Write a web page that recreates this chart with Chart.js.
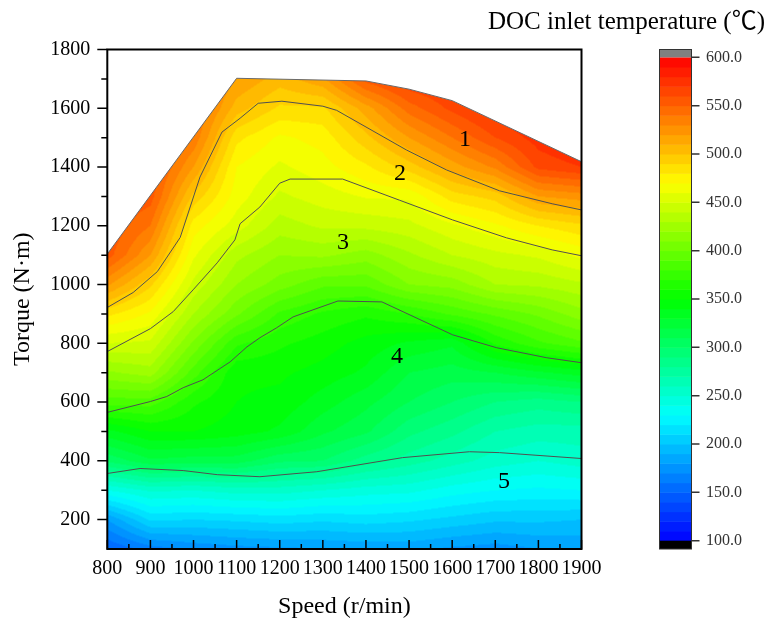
<!DOCTYPE html>
<html>
<head>
<meta charset="utf-8">
<script src="https://cdn.jsdelivr.net/npm/chart.js@4/dist/chart.umd.min.js"></script>
<style>
  html, body { margin: 0; padding: 0; background: #fff; }
</style>
</head>
<body>
<canvas id="doc-map" width="773" height="619"></canvas>
<script>
// grid of the map: speed (r/min) columns, torque (N·m) rows
const speeds = [800, 900, 1000, 1100, 1200, 1300, 1400, 1500, 1600, 1700, 1800, 1900];
const torques = [100, 200, 300, 400, 500, 600, 700, 800, 900, 1000, 1100, 1200, 1300, 1400, 1500, 1600, 1700];

// DOC inlet temperature (°C) along each speed column, torque 100 -> 1700
const temp800  = [150, 180, 240, 302, 337, 385, 418, 450, 483, 522, 555, 560, 560, 560, 560, 560, 560];
const temp900  = [165, 212, 252, 318, 350, 385, 425, 448, 468, 492, 520, 540, 555, 560, 560, 560, 560];
const temp1000 = [172, 210, 250, 315, 350, 362, 385, 408, 430, 447, 462, 475, 497, 520, 538, 545, 545];
const temp1100 = [176, 212, 255, 315, 345, 350, 352, 372, 402, 420, 433, 455, 465, 470, 483, 505, 520];
const temp1200 = [178, 215, 255, 302, 338, 347, 352, 362, 378, 405, 420, 435, 448, 458, 468, 488, 505];
const temp1300 = [180, 212, 250, 300, 322, 335, 346, 355, 368, 392, 422, 442, 455, 466, 474, 488, 518];
const temp1400 = [182, 215, 245, 285, 312, 323, 338, 346, 362, 392, 415, 443, 461, 478, 497, 515, 555];
const temp1500 = [183, 212, 243, 275, 293, 310, 320, 338, 370, 410, 428, 447, 462, 495, 520, 545, 570];
const temp1600 = [178, 207, 235, 265, 283, 300, 315, 332, 382, 414, 440, 458, 485, 515, 540, 563, 575];
const temp1700 = [175, 202, 230, 255, 270, 290, 320, 362, 392, 430, 447, 468, 494, 532, 560, 578, 585];
const temp1800 = [180, 202, 228, 250, 265, 285, 328, 378, 402, 432, 452, 480, 520, 563, 575, 585, 590];
const temp1900 = [182, 200, 230, 255, 265, 290, 335, 388, 416, 438, 463, 488, 525, 570, 585, 590, 590];
const tempColumns = [temp800, temp900, temp1000, temp1100, temp1200, temp1300,
  temp1400, temp1500, temp1600, temp1700, temp1800, temp1900];

// full load envelope
const envelopeSpeed = [800, 1100, 1400, 1500, 1600, 1900];
const envelopeTorque = [1104, 1702, 1693, 1665, 1626, 1418];

// contour lines between the numbered regions
const iso12Speed = [800, 860, 916, 969, 1015, 1066, 1108, 1150, 1205, 1300, 1332, 1494, 1587, 1710, 1832, 1900];
const iso12Torque = [922, 973, 1044, 1160, 1366, 1519, 1566, 1617, 1624, 1607, 1593, 1458, 1390, 1319, 1275, 1254];
const iso23Speed = [800, 900, 953, 999, 1055, 1096, 1108, 1154, 1200, 1224, 1346, 1478, 1601, 1726, 1832, 1900];
const iso23Torque = [772, 850, 908, 982, 1074, 1152, 1207, 1264, 1345, 1359, 1359, 1287, 1220, 1159, 1118, 1098];
const iso34Speed = [800, 846, 900, 938, 976, 1022, 1085, 1124, 1154, 1193, 1231, 1335, 1437, 1601, 1703, 1819, 1900];
const iso34Torque = [565, 582, 602, 619, 649, 676, 737, 788, 819, 853, 890, 944, 941, 829, 785, 751, 734];
const iso45Speed = [800, 876, 976, 1055, 1154, 1286, 1485, 1640, 1710, 1900];
const iso45Torque = [357, 374, 367, 353, 346, 363, 411, 431, 428, 408];

// region numbers
const regionLabels = ['1', '2', '3', '4', '5'];
const labelSpeed = [1630, 1479, 1347, 1472, 1720];
const labelTorque = [1492, 1376, 1142, 754, 329];

// ticks
const speedTicks = [800, 900, 1000, 1100, 1200, 1300, 1400, 1500, 1600, 1700, 1800, 1900];
const speedMinor = [850, 950, 1050, 1150, 1250, 1350, 1450, 1550, 1650, 1750, 1850];
const torqueTicks = [200, 400, 600, 800, 1000, 1200, 1400, 1600, 1800];
const torqueMinor = [300, 500, 700, 900, 1100, 1300, 1500, 1700];
const tempTicks = [100, 150, 200, 250, 300, 350, 400, 450, 500, 550, 600];

const serif = '"Liberation Serif", "Times New Roman", "Noto Sans CJK SC", serif';
const colourStops = [[100, [0, 0, 255]], [230, [0, 255, 255]], [350, [0, 255, 0]], [470, [255, 255, 0]], [600, [255, 0, 0]]];
const band = 10;

function colourFor(v) {
  if (v <= colourStops[0][0]) return colourStops[0][1];
  for (let i = 1; i < colourStops.length; i++) {
    const [v1, c1] = colourStops[i];
    const [v0, c0] = colourStops[i - 1];
    if (v <= v1) {
      const f = (v - v0) / (v1 - v0);
      return [0, 1, 2].map(k => Math.round(c0[k] + (c1[k] - c0[k]) * f));
    }
  }
  return colourStops[colourStops.length - 1][1];
}

function findCell(arr, v) {
  for (let i = 0; i < arr.length - 1; i++) {
    if (v <= arr[i + 1]) return i;
  }
  return arr.length - 2;
}

function fieldAt(s, t) {
  const i = findCell(speeds, s), j = findCell(torques, t);
  const fs = Math.min(Math.max((s - speeds[i]) / (speeds[i + 1] - speeds[i]), 0), 1);
  const ft = Math.min(Math.max((t - torques[j]) / (torques[j + 1] - torques[j]), 0), 1);
  const a = tempColumns[i][j], b = tempColumns[i + 1][j];
  const c = tempColumns[i][j + 1], d = tempColumns[i + 1][j + 1];
  return (a * (1 - fs) + b * fs) * (1 - ft) + (c * (1 - fs) + d * fs) * ft;
}

function bandColour(v) {
  return colourFor(Math.floor(v / band) * band + band / 2);
}

const fieldPlugin = {
  id: 'field',
  beforeDatasetsDraw(chart) {
    const {ctx, chartArea: a, scales: {x, y}} = chart;
    const w = Math.ceil(a.right - a.left), h = Math.ceil(a.bottom - a.top);
    const off = document.createElement('canvas');
    off.width = w; off.height = h;
    const octx = off.getContext('2d');
    const img = octx.createImageData(w, h);
    for (let j = 0; j < h; j++) {
      const t = y.getValueForPixel(a.top + j + 0.5);
      for (let i = 0; i < w; i++) {
        const s = x.getValueForPixel(a.left + i + 0.5);
        const c = bandColour(fieldAt(s, t));
        const k = (j * w + i) * 4;
        img.data[k] = c[0]; img.data[k + 1] = c[1]; img.data[k + 2] = c[2]; img.data[k + 3] = 255;
      }
    }
    octx.putImageData(img, 0, 0);
    ctx.save();
    ctx.beginPath();
    envelopeSpeed.forEach((s, i) => {
      const px = x.getPixelForValue(s), py = y.getPixelForValue(envelopeTorque[i]);
      if (i === 0) ctx.moveTo(px, py); else ctx.lineTo(px, py);
    });
    ctx.lineTo(x.getPixelForValue(x.max), y.getPixelForValue(y.min));
    ctx.lineTo(x.getPixelForValue(x.min), y.getPixelForValue(y.min));
    ctx.closePath();
    ctx.clip();
    ctx.drawImage(off, a.left, a.top);
    ctx.restore();
  },
  afterDatasetsDraw(chart) {
    const {ctx, scales: {x, y}} = chart;
    ctx.save();
    ctx.fillStyle = '#000';
    ctx.font = '24px ' + serif;
    ctx.textAlign = 'center';
    ctx.textBaseline = 'middle';
    regionLabels.forEach((txt, i) => {
      ctx.fillText(txt, x.getPixelForValue(labelSpeed[i]), y.getPixelForValue(labelTorque[i]));
    });
    ctx.restore();
  },
  afterDraw(chart) {
    const {ctx, chartArea: a, scales: {x, y, temp}} = chart;
    ctx.save();
    // frame
    ctx.strokeStyle = '#000';
    ctx.lineWidth = 2;
    ctx.strokeRect(a.left, a.top, a.right - a.left, a.bottom - a.top);
    // x ticks, pointing in
    ctx.lineWidth = 1.5;
    ctx.beginPath();
    speedTicks.forEach(v => { const px = x.getPixelForValue(v); ctx.moveTo(px, a.bottom); ctx.lineTo(px, a.bottom - 9); });
    speedMinor.forEach(v => { const px = x.getPixelForValue(v); ctx.moveTo(px, a.bottom); ctx.lineTo(px, a.bottom - 5); });
    // y ticks, pointing out
    torqueTicks.forEach(v => { const py = y.getPixelForValue(v); ctx.moveTo(a.left, py); ctx.lineTo(a.left - 10, py); });
    torqueMinor.forEach(v => { const py = y.getPixelForValue(v); ctx.moveTo(a.left, py); ctx.lineTo(a.left - 6, py); });
    ctx.stroke();

    // colour bar
    const bx = temp.left + 78, bw = 32;
    const yTop = temp.getPixelForValue(tempTicks[tempTicks.length - 1]);
    const yBot = temp.getPixelForValue(tempTicks[0]);
    for (let v = tempTicks[0]; v < tempTicks[tempTicks.length - 1]; v += band) {
      const c = colourFor(v + band / 2);
      const y0 = temp.getPixelForValue(v + band), y1 = temp.getPixelForValue(v);
      ctx.fillStyle = `rgb(${c[0]},${c[1]},${c[2]})`;
      ctx.fillRect(bx, y0, bw, y1 - y0 + 0.5);
    }
    ctx.fillStyle = '#808080';
    ctx.fillRect(bx, temp.top, bw, yTop - temp.top);
    ctx.fillStyle = '#000';
    ctx.fillRect(bx, yBot, bw, temp.bottom - yBot);
    ctx.strokeStyle = '#333';
    ctx.lineWidth = 1;
    ctx.strokeRect(bx, temp.top, bw, temp.bottom - temp.top);
    ctx.lineWidth = 1.5;
    ctx.beginPath();
    tempTicks.forEach(v => { const py = temp.getPixelForValue(v); ctx.moveTo(bx + bw, py); ctx.lineTo(bx + bw + 8, py); });
    ctx.stroke();
    ctx.restore();
  }
};

function isoLine(sp, tq) {
  return {
    data: sp.map((s, i) => ({x: s, y: tq[i]})),
    showLine: true,
    borderColor: '#505050',
    borderWidth: 1,
    pointRadius: 0,
    tension: 0
  };
}

const envelope = isoLine(envelopeSpeed, envelopeTorque);
envelope.borderColor = '#6a6a6a';

new Chart(document.getElementById('doc-map'), {
  type: 'scatter',
  data: {
    datasets: [
      isoLine(iso12Speed, iso12Torque),
      isoLine(iso23Speed, iso23Torque),
      isoLine(iso34Speed, iso34Torque),
      isoLine(iso45Speed, iso45Torque),
      envelope
    ]
  },
  options: {
    responsive: false,
    animation: false,
    events: [],
    layout: { padding: { left: 0, right: 8, top: 0, bottom: 0 } },
    plugins: {
      legend: { display: false },
      tooltip: { enabled: false },
      title: {
        display: true,
        text: 'DOC inlet temperature (℃)',
        align: 'end',
        color: '#000',
        font: { family: serif, size: 25, weight: 'normal' },
        padding: { top: 7, bottom: 12.5 }
      }
    },
    scales: {
      x: {
        type: 'linear',
        position: 'bottom',
        min: 800,
        max: 1900,
        afterBuildTicks: s => { s.ticks = speedTicks.map(v => ({value: v})); },
        afterFit: s => { s.height = 70; },
        grid: { display: false, drawTicks: false },
        border: { display: false },
        ticks: {
          autoSkip: false, maxRotation: 0, minRotation: 0, padding: 8,
          color: '#000', font: { family: serif, size: 20 },
          callback: v => String(v)
        },
        title: {
          display: true, text: 'Speed (r/min)', color: '#000',
          font: { family: serif, size: 24 }, padding: { top: 0, bottom: -2 }
        }
      },
      y: {
        type: 'linear',
        position: 'left',
        min: 100,
        max: 1800,
        afterBuildTicks: s => { s.ticks = torqueTicks.map(v => ({value: v})); },
        afterFit: s => { s.width = 107.3; s.paddingTop = 10; s.paddingBottom = 10; },
        grid: { display: false, drawTicks: false },
        border: { display: false },
        ticks: {
          autoSkip: false, padding: 17,
          color: '#000', font: { family: serif, size: 20 },
          callback: v => String(v)
        },
        title: {
          display: true, text: 'Torque (N·m)', color: '#000',
          font: { family: serif, size: 24 }, padding: { top: 8, bottom: 0 }
        }
      },
      temp: {
        type: 'linear',
        position: 'right',
        min: 91.4,
        max: 608.1,
        afterBuildTicks: s => { s.ticks = tempTicks.map(v => ({value: v})); },
        afterFit: s => { s.width = 183.5; s.paddingTop = 10; s.paddingBottom = 10; },
        grid: { display: false, drawTicks: false },
        border: { display: false },
        ticks: {
          autoSkip: false, padding: 124.5,
          color: '#333', font: { family: serif, size: 16 },
          callback: v => v.toFixed(1)
        }
      }
    }
  },
  plugins: [fieldPlugin]
});
</script>
</body>
</html>
